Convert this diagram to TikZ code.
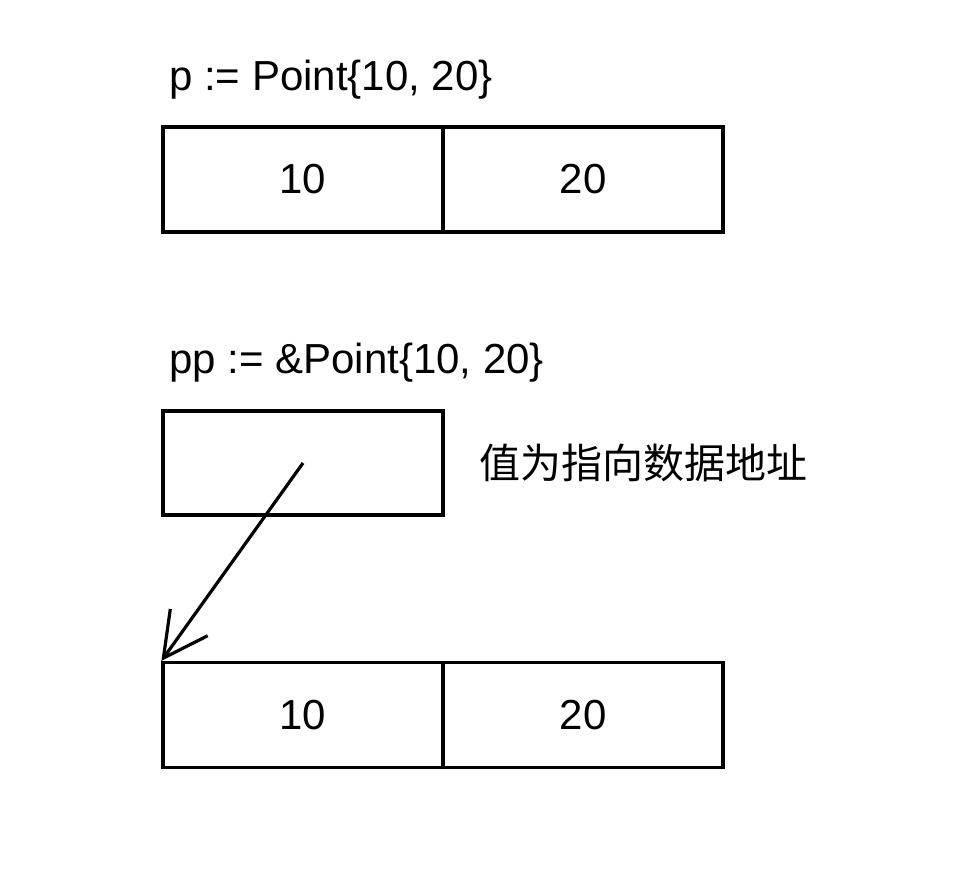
\documentclass[tikz,border=0pt]{standalone}
\usepackage{fontspec}
\setmainfont{Liberation Sans}
\newfontfamily\cjk{Noto Sans CJK SC}
\usetikzlibrary{arrows.meta}
\begin{document}
\begin{tikzpicture}[x=1pt,y=-1pt,
  cell/.style={draw=black,line width=3.2pt,minimum width=280pt,minimum height=105pt,inner sep=0pt,font=\fontsize{42}{50}\selectfont},
  lbl/.style={anchor=base west,inner sep=0pt,font=\fontsize{42}{50}\selectfont},
  ptr/.style={line width=3.2pt,-{Straight Barb[length=44pt,width=46pt,line width=3.2pt]}}]
\useasboundingbox (0,0) rectangle (966,868);
\node[lbl] (l1) at (169,90) {p := Point\{10, 20\}};
\node[cell] (a1) at (303,179.5) {10};
\node[cell] (a2) at (583,179.5) {20};
\node[lbl] (l2) at (169,373) {pp := \&Point\{10, 20\}};
\node[cell,minimum height=104pt] (p) at (303,463) {};
\node[anchor=west,inner sep=0pt,font=\cjk\fontsize{41}{48}\selectfont] (c) at (479,463) {值为指向数据地址};
\node[cell] (b1) at (303,715) {10};
\node[cell] (b2) at (583,715) {20};
\draw[ptr] (p.center) -- (b1.north west);
\end{tikzpicture}
\end{document}
